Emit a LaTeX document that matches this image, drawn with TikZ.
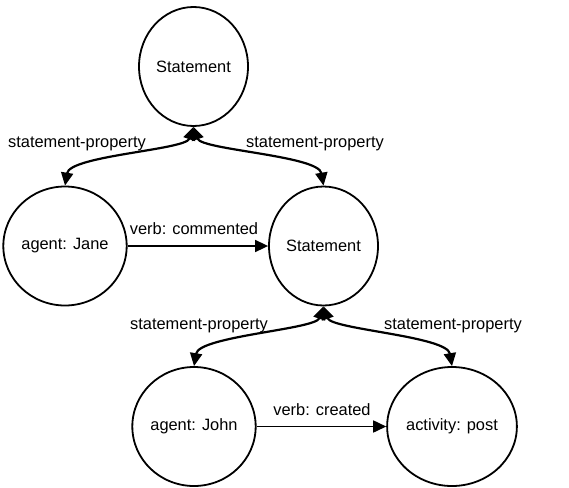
\documentclass[tikz,border=0pt]{standalone}
\usepackage{fontspec}
\setmainfont{Liberation Sans}
\usetikzlibrary{shapes.geometric,arrows.meta}

\begin{document}
\begin{tikzpicture}[x=1pt,y=-1pt,
    >={Triangle[length=13pt,width=12pt]},
    entity/.style={draw=black,line width=1.8pt,ellipse,inner sep=0pt,
        minimum width=109pt,minimum height=119pt,font=\fontsize{16.4}{20}\selectfont},
    lbl/.style={inner sep=0pt,font=\fontsize{16.4}{20}\selectfont},
    link/.style={line width=2.2pt,<->},
    verb/.style={line width=1.6pt,->}]

\useasboundingbox (0,0) rectangle (569,487);

% statements and entities
\node[entity] (st1)  at (193.5,66.5) {Statement};
\node[entity] (jane) at (65,246)     {agent: Jane};
\node[entity] (st2)  at (323.5,246)  {Statement};
\node[entity] (john) at (194,426.5)  {agent: John};
\node[entity] (post) at (452,426.5)  {activity: post};

% statement properties
\draw[link] (jane.north) .. controls +(5,-30) and +(-8,23) .. (st1.south);
\draw[link] (st1.south)  .. controls +(8,23)  and +(-5,-30) .. (st2.north);
\draw[link] (john.north) .. controls +(5,-30) and +(-8,23) .. (st2.south);
\draw[link] (st2.south)  .. controls +(8,23)  and +(-5,-30) .. (post.north);

% verbs
\draw[verb] (jane.east) -- (st2.west);
\draw[verb] (john.east) -- (post.west);

% labels
\node[lbl] (p1) at (77,144)  {statement-property};
\node[lbl] (p2) at (315,144) {statement-property};
\node[lbl] (p3) at (199,326) {statement-property};
\node[lbl] (p4) at (453,326) {statement-property};
\node[lbl] (v1) at (194,229) {verb: commented};
\node[lbl] (v2) at (322,410) {verb: created};

\end{tikzpicture}
\end{document}
